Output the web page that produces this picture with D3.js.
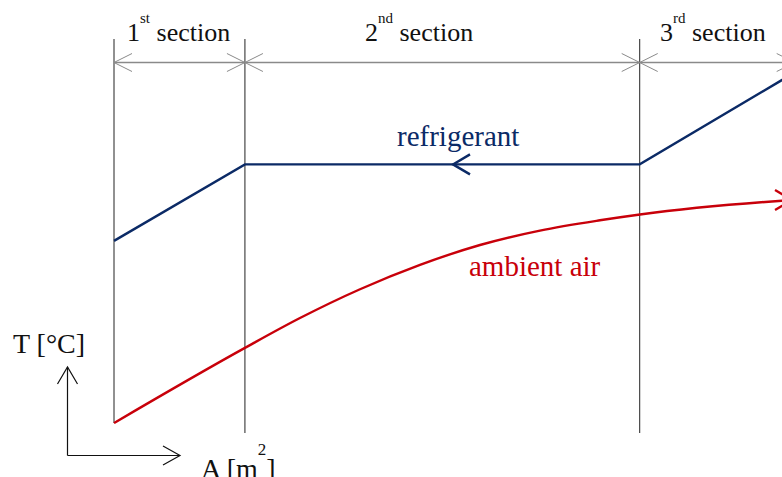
<!DOCTYPE html>
<html>
<head>
<meta charset="utf-8">
<script src="https://cdn.jsdelivr.net/npm/d3@7"></script>
<style>
  html, body { margin: 0; padding: 0; background: #fff; }
  svg { display: block; font-family: "Liberation Serif", "Times New Roman", serif; }
</style>
</head>
<body>
<svg id="chart" width="782" height="477"></svg>
<script>
// ---- data (area in arbitrary units, temperature in arbitrary units) ----
const sectionBounds = [0, 1.96, 7.87, 10.19];
const sectionNums = ["1", "2", "3"];
const sectionSups = ["st", "nd", "rd"];
const refrigerantA = [0, 1.96, 7.87, 10.19];
const refrigerantT = [53.1, 75.4, 75.4, 102.2];
const airA = [0, 1.96, 2.784, 3.683, 4.581, 5.479, 6.377, 7.275, 7.874, 10.0, 10.15];
const airT = [0, 21.9, 30.6, 39.0, 46.1, 51.9, 56.1, 59.1, 60.8, 64.8, 65.0];
const seriesLabels = ["refrigerant", "ambient air"];
const axisLabels = ["T [°C]", "A [m", "2", "]"];

const svg = d3.select("#chart");
const x = d3.scaleLinear().domain([0, 10]).range([114, 782]);
const y = d3.scaleLinear().domain([0, 100]).range([423, 80]);

const navy = "#0b2a66";
const red = "#c8000a";
const gray = "#8a8a8a";

// vertical section boundaries
const vBottoms = [423, 433, 433, 433];
svg.selectAll("line.vb").data(sectionBounds).enter().append("line")
  .attr("class", "vb")
  .attr("x1", d => x(d)).attr("x2", d => x(d))
  .attr("y1", 39).attr("y2", (d, i) => vBottoms[i])
  .attr("stroke", "#222").attr("stroke-width", 1);

// dimension line
const dimY = 62.5;
svg.append("line")
  .attr("x1", x(sectionBounds[0])).attr("x2", x(sectionBounds[3])).attr("y1", dimY).attr("y2", dimY)
  .attr("stroke", gray).attr("stroke-width", 1.3);
function chevron(tipX, tipY, dir, len, half, color, w) {
  svg.append("path")
    .attr("d", `M${tipX + dir * len},${tipY - half} L${tipX},${tipY} L${tipX + dir * len},${tipY + half}`)
    .attr("fill", "none").attr("stroke", color).attr("stroke-width", w);
}
for (let i = 0; i < 3; i++) {
  chevron(x(sectionBounds[i]), dimY, 1, 18, 9, gray, 1);
  chevron(x(sectionBounds[i + 1]), dimY, -1, 18, 9, gray, 1);
}

// section labels
const labelX = [127, 365, 660];
sectionNums.forEach((n, i) => {
  const t = svg.append("text").attr("x", labelX[i]).attr("y", 41)
    .attr("font-size", 26).attr("fill", "#111");
  t.append("tspan").text(n);
  t.append("tspan").attr("font-size", 15).attr("dy", -18).text(sectionSups[i]);
  t.append("tspan").attr("dy", 18).text(" section");
});

// refrigerant line
const line = d3.line().x(d => x(d[0])).y(d => y(d[1]));
svg.append("path")
  .datum(d3.zip(refrigerantA, refrigerantT))
  .attr("d", line).attr("fill", "none").attr("stroke", navy).attr("stroke-width", 2.4);
// flow arrow on refrigerant
chevron(453, y(refrigerantT[1]), 1, 17, 10, navy, 2.4);

// ambient air curve
const curve = d3.line().x(d => x(d[0])).y(d => y(d[1])).curve(d3.curveMonotoneX);
svg.append("path")
  .datum(d3.zip(airA, airT))
  .attr("d", curve).attr("fill", "none").attr("stroke", red).attr("stroke-width", 2.4);
chevron(x(airA[airA.length - 1]), y(airT[airT.length - 1]), -1, 17, 10, red, 2.4);

// series labels
svg.append("text").attr("x", 397).attr("y", 146).attr("font-size", 29)
  .attr("fill", navy).text(seriesLabels[0]);
svg.append("text").attr("x", 469).attr("y", 276).attr("font-size", 29)
  .attr("fill", red).text(seriesLabels[1]);

// axis symbol
const ox = 67.5, oy = 455.5;
svg.append("line").attr("x1", ox).attr("x2", ox).attr("y1", oy).attr("y2", 367)
  .attr("stroke", "#111").attr("stroke-width", 1.2);
svg.append("line").attr("x1", ox).attr("x2", 180).attr("y1", oy).attr("y2", oy)
  .attr("stroke", "#111").attr("stroke-width", 1.2);
svg.append("path").attr("d", `M${ox - 10},${384} L${ox},${367} L${ox + 10},${384}`)
  .attr("fill", "none").attr("stroke", "#111").attr("stroke-width", 1.2);
svg.append("path").attr("d", `M163,${oy - 9.5} L180,${oy} L163,${oy + 9.5}`)
  .attr("fill", "none").attr("stroke", "#111").attr("stroke-width", 1.2);

svg.append("text").attr("x", 13).attr("y", 353).attr("font-size", 28)
  .attr("fill", "#111").text(axisLabels[0]);
const at = svg.append("text").attr("x", 201).attr("y", 478).attr("font-size", 28).attr("fill", "#111");
at.append("tspan").text(axisLabels[1]);
at.append("tspan").attr("font-size", 17).attr("dy", -23).text(axisLabels[2]);
at.append("tspan").attr("dy", 23).text(axisLabels[3]);
</script>
</body>
</html>
